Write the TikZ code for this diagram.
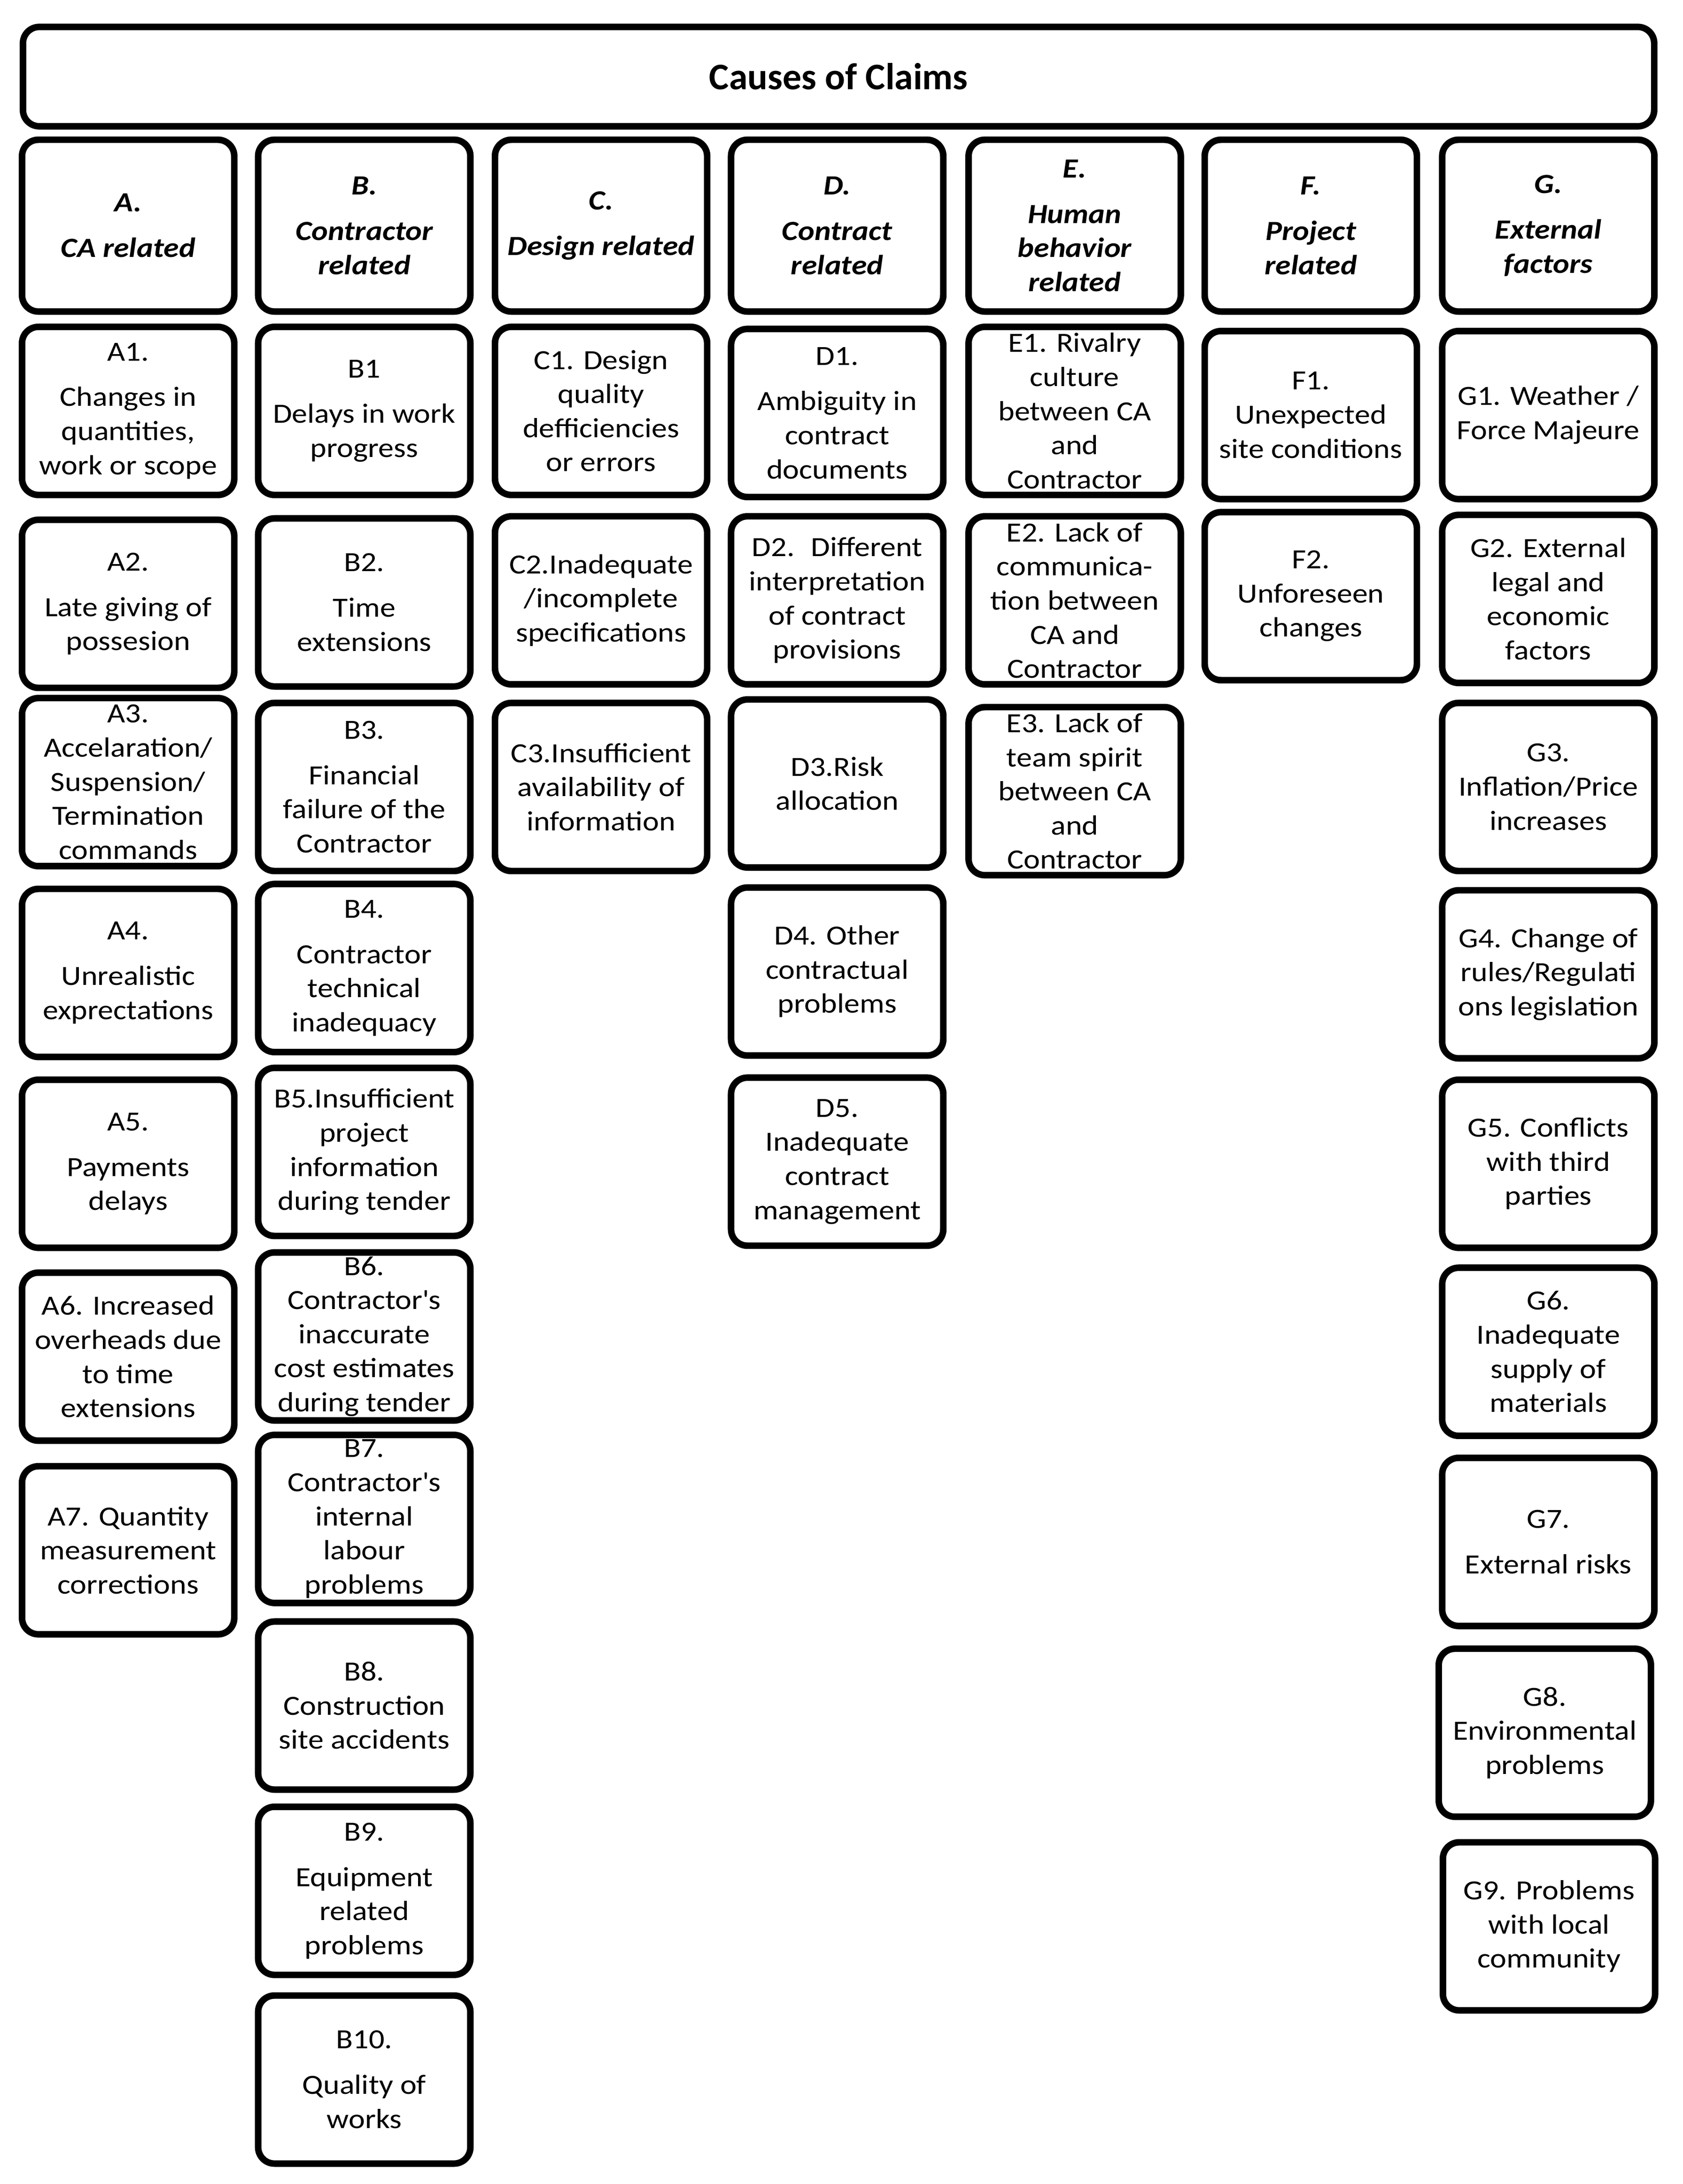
\documentclass[tikz,border=0pt]{standalone}
\usepackage{fontspec}
\setmainfont{Carlito}[FakeStretch = 1.12]
\newfontfamily\titlefont{Carlito}
\tikzstyle{cell} = [rectangle, rounded corners = 10pt, draw = black, line width = 4pt, text centered, align = center, minimum width = 4.57cm, minimum height = 3.62cm, inner sep = 0pt, font = \fontsize{17pt}{20.9pt}\selectfont]
\tikzstyle{head} = [cell, minimum height = 3.7cm, font = \fontsize{17pt}{20.9pt}\selectfont\bfseries\itshape]
\tikzstyle{title} = [cell, minimum width = 35.13cm, minimum height = 2.14cm, font = \titlefont\fontsize{23pt}{27pt}\selectfont\bfseries]

\begin{document}
\begin{tikzpicture}[x = 0.03cm, y = -0.03cm]
    \useasboundingbox (0,0) rectangle (1208,1568);
    \node (causes) [title] at (602,55) {Causes of Claims};

    \node (headA) [head] at (92,162) {A.\\[7pt]CA related};
    \node (headB) [head] at (261.5,162) {B.\\[7pt]Contractor\\related};
    \node (headC) [head] at (431.5,162) {C.\\[7pt]Design related};
    \node (headD) [head] at (601,162) {D.\\[7pt]Contract\\related};
    \node (headE) [head] at (771.5,162) {E.\\[7pt]Human\\behavior\\related};
    \node (headF) [head] at (941,162) {F.\\[7pt]Project\\related};
    \node (headG) [head] at (1111.5,162) {G.\\[7pt]External\\factors};

    \node (a1) [cell] at (92,295) {A1.\\[7pt]Changes in\\quantities,\\work or scope};
    \node (a2) [cell] at (92,433.5) {A2.\\[7pt]Late giving of\\possesion};
    \node (a3) [cell] at (92,561.5) {A3.\\Accelaration/\\Suspension/\\Termination\\commands};
    \node (a4) [cell] at (92,698.5) {A4.\\[7pt]Unrealistic\\exprectations};
    \node (a5) [cell] at (92,835.5) {A5.\\[7pt]Payments\\delays};
    \node (a6) [cell] at (92,974) {A6. Increased\\overheads due\\to time\\extensions};
    \node (a7) [cell] at (92,1113) {A7. Quantity\\measurement\\corrections};

    \node (b1) [cell] at (261.5,295) {B1\\[7pt]Delays in work\\progress};
    \node (b2) [cell] at (261.5,432.5) {B2.\\[7pt]Time\\extensions};
    \node (b3) [cell] at (261.5,565) {B3.\\[7pt]Financial\\failure of the\\Contractor};
    \node (b4) [cell] at (261.5,695) {B4.\\[7pt]Contractor\\technical\\inadequacy};
    \node (b5) [cell] at (261.5,827) {B5.Insufficient\\project\\information\\during tender};
    \node (b6) [cell] at (261.5,959.5) {B6.\\Contractor\textquotesingle s\\inaccurate\\cost estimates\\during tender};
    \node (b7) [cell] at (261.5,1090.5) {B7.\\Contractor\textquotesingle s\\internal\\labour\\problems};
    \node (b8) [cell] at (261.5,1224.5) {B8.\\Construction\\site accidents};
    \node (b9) [cell] at (261.5,1357.5) {B9.\\[7pt]Equipment\\related\\problems};
    \node (b10) [cell] at (261.5,1493) {B10.\\[7pt]Quality of\\works};

    \node (c1) [cell] at (431.5,295) {C1. Design\\quality\\defficiencies\\or errors};
    \node (c2) [cell] at (431.5,431) {C2.Inadequate\\/incomplete\\specifications};
    \node (c3) [cell] at (431.5,565) {C3.Insufficient\\availability of\\information};

    \node (d1) [cell] at (601,296.5) {D1.\\[7pt]Ambiguity in\\contract\\documents};
    \node (d2) [cell] at (601,431) {D2.~ Different\\interpretation\\of contract\\provisions};
    \node (d3) [cell] at (601,562.5) {D3.Risk\\allocation};
    \node (d4) [cell] at (601,697.5) {D4. Other\\contractual\\problems};
    \node (d5) [cell] at (601,834) {D5.\\Inadequate\\contract\\management};

    \node (e1) [cell] at (771.5,295) {E1. Rivalry\\culture\\between CA\\and\\Contractor};
    \node (e2) [cell] at (771.5,431) {E2. Lack of\\communica-\\tion between\\CA and\\Contractor};
    \node (e3) [cell] at (771.5,568) {E3. Lack of\\team spirit\\between CA\\and\\Contractor};

    \node (f1) [cell] at (941,298) {F1.\\Unexpected\\site conditions};
    \node (f2) [cell] at (941,428) {F2.\\Unforeseen\\changes};

    \node (g1) [cell] at (1111.5,298) {G1. Weather /\\Force Majeure};
    \node (g2) [cell] at (1111.5,430) {G2. External\\legal and\\economic\\factors};
    \node (g3) [cell] at (1111.5,565) {G3.\\Inflation/Price\\increases};
    \node (g4) [cell] at (1111.5,699.5) {G4. Change of\\rules/Regulati\\ons legislation};
    \node (g5) [cell] at (1111.5,835.5) {G5. Conflicts\\with third\\parties};
    \node (g6) [cell] at (1111.5,970.5) {G6.\\Inadequate\\supply of\\materials};
    \node (g7) [cell] at (1111.5,1107) {G7.\\[7pt]External risks};
    \node (g8) [cell] at (1109,1244) {G8.\\Environmental\\problems};
    \node (g9) [cell] at (1112,1383) {G9. Problems\\with local\\community};
\end{tikzpicture}
\end{document}
